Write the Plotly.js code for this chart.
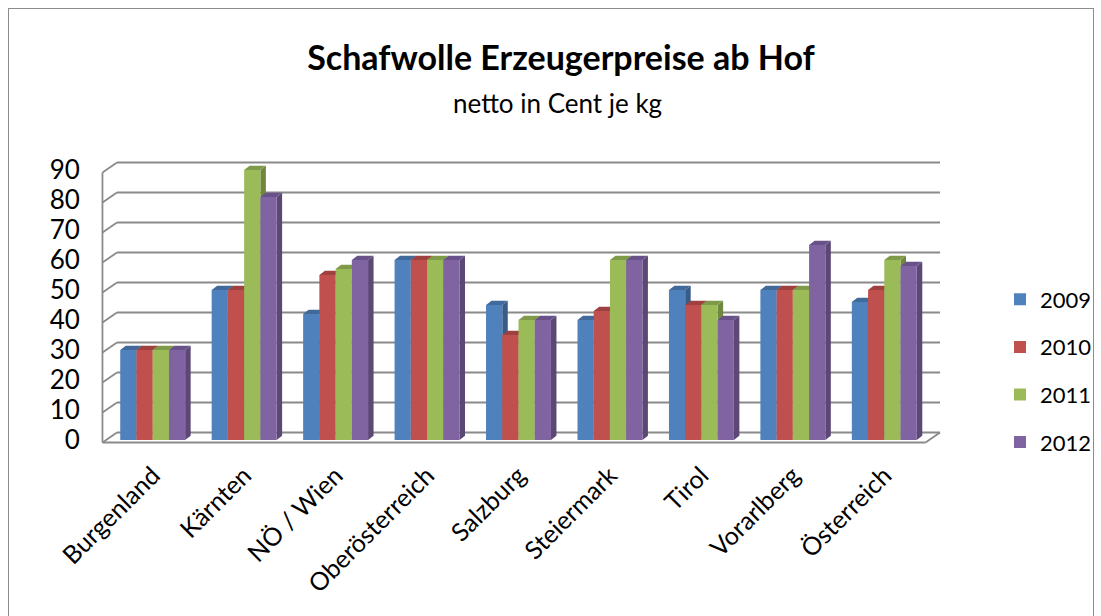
<!DOCTYPE html>
<html>
<head>
<meta charset="utf-8">
<script src="https://cdn.plot.ly/plotly-3.0.1.min.js"></script>
<style>
html,body{margin:0;padding:0;background:#fff;}
#chart{width:1101px;height:616px;}
#frame{position:absolute;left:8px;top:8px;width:1084px;height:620px;border:1px solid #8c8c8c;pointer-events:none;}
</style>
</head>
<body>
<div id="chart"></div>
<div id="frame"></div>
<script>
// ---- data ----
const categories = ["Burgenland", "Kärnten", "NÖ / Wien", "Oberösterreich", "Salzburg", "Steiermark", "Tirol", "Vorarlberg", "Österreich"];
const years = ["2009", "2010", "2011", "2012"];
const v2009 = [30, 50, 42, 60, 45, 40, 50, 50, 46];
const v2010 = [30, 50, 55, 60, 35, 43, 45, 50, 50];
const v2011 = [30, 90, 57, 60, 40, 60, 45, 50, 60];
const v2012 = [30, 81, 60, 60, 40, 60, 40, 65, 58];
const yTicks = [0, 10, 20, 30, 40, 50, 60, 70, 80, 90];

// ---- styling ----
const series = [v2009, v2010, v2011, v2012];
const colors = ["#4F81BD", "#C0504D", "#9BBB59", "#8064A2"];
const sideColors = ["#385C88", "#8A3936", "#708740", "#5C4875"];
const topColors = ["#41699A", "#9E413F", "#7F9A49", "#69528A"];
const gridColor = "#8a8a8a";
const font = "Lato, 'Open Sans', 'DejaVu Sans', sans-serif";

const W = 1101, H = 616;
const L = 96, R = 160, T = 158, B = 170;
const xRange = [-0.62, 8.62];
const yRange = [-2, 94];
const pxX = (W - L - R) / (xRange[1] - xRange[0]);
const pxY = (H - T - B) / (yRange[1] - yRange[0]);
const bargap = 0.29;
const groupW = 1 - bargap;
const barW = groupW / series.length;

// depth offsets (pixels -> data units)
const bdx = 5.5 / pxX, bdy = 4.3 / pxY;      // bar depth
const fdx = -4.5 / pxX, fdy = -2.5 / pxY;    // front plane of walls
const kdx = 10 / pxX, kdy = 7.5 / pxY;       // back plane of walls
const xi = categories.map((c, i) => i);

const traces = series.map((vals, i) => ({
  type: "bar",
  name: years[i],
  x: xi,
  y: vals,
  marker: {color: colors[i], line: {width: 0}},
  legendgroup: "g" + i,
  hovertext: categories,
  hoverinfo: "text+y+name"
}));

const shapes = [];
function line(x0, y0, x1, y1) {
  shapes.push({type: "line", xref: "x", yref: "y", x0, y0, x1, y1, layer: "below",
    line: {color: gridColor, width: 1.8}});
}
// back wall gridlines + left wall diagonals
const xl = -0.5, xr = 8.5;
yTicks.forEach(t => {
  line(xl + kdx, t + kdy, xr + kdx, t + kdy);
  line(xl + fdx, t + fdy, xl + kdx, t + kdy);
});
// left wall front edge
line(xl + fdx, yTicks[0] + fdy, xl + fdx, yTicks[yTicks.length - 1] + fdy);
// floor front edge and right edge
line(xl + fdx, fdy, xr + fdx, fdy);
line(xr + fdx, fdy, xr + kdx, kdy);

// bar sides and tops (3D depth), built from the data
series.forEach((vals, i) => {
  vals.forEach((v, k) => {
    const x0 = k - groupW / 2 + i * barW;
    const x1 = x0 + barW;
    shapes.push({type: "path", xref: "x", yref: "y", layer: "below",
      path: `M${x1},0 L${x1},${v} L${x1 + bdx},${v + bdy} L${x1 + bdx},${bdy} Z`,
      fillcolor: sideColors[i], line: {width: 0}});
    shapes.push({type: "path", xref: "x", yref: "y", layer: "below",
      path: `M${x0},${v} L${x1},${v} L${x1 + bdx},${v + bdy} L${x0 + bdx},${v + bdy} Z`,
      fillcolor: topColors[i], line: {width: 0}});
  });
});

const layout = {
  width: W,
  height: H,
  paper_bgcolor: "#ffffff",
  plot_bgcolor: "rgba(0,0,0,0)",
  margin: {l: L, r: R, t: T, b: B, autoexpand: false},
  barmode: "group",
  bargap: bargap,
  bargroupgap: 0,
  font: {family: font, color: "#000"},
  title: {
    text: "<b>Schafwolle Erzeugerpreise ab Hof</b>",
    font: {family: font, size: 34, color: "#000"},
    x: 561 / W, xref: "container", xanchor: "center",
    y: 1 - 58 / H, yref: "container", yanchor: "middle"
  },
  annotations: [{
    text: "netto in Cent je kg",
    xref: "paper", yref: "paper",
    x: (557 - L) / (W - L - R), y: (H - B - 103) / (H - T - B),
    xanchor: "center", yanchor: "middle",
    showarrow: false,
    font: {family: font, size: 26, color: "#000"}
  }],
  xaxis: {
    range: xRange,
    tickvals: xi,
    ticktext: categories,
    tickangle: -45,
    tickfont: {family: font, size: 25, color: "#000"},
    showgrid: false,
    showline: false,
    zeroline: false,
    ticks: "outside",
    ticklen: 4,
    tickcolor: "rgba(0,0,0,0)",
    fixedrange: true,
    automargin: false
  },
  yaxis: {
    range: yRange,
    tickvals: yTicks,
    ticktext: yTicks.map(String),
    tickfont: {family: font, size: 26, color: "#000"},
    showgrid: false,
    showline: false,
    zeroline: false,
    ticks: "outside",
    ticklen: 10,
    tickcolor: "rgba(0,0,0,0)",
    fixedrange: true,
    automargin: false
  },
  legend: {
    xref: "container", yref: "container",
    x: 1000 / W, xanchor: "left",
    y: 1 - 371 / H, yanchor: "middle",
    font: {family: font, size: 22, color: "#000"},
    tracegroupgap: 16,
    itemwidth: 30,
    bgcolor: "rgba(0,0,0,0)"
  },
  showlegend: true,
  shapes: shapes
};

Plotly.newPlot("chart", traces, layout, {displayModeBar: false, responsive: false});
</script>
</body>
</html>
